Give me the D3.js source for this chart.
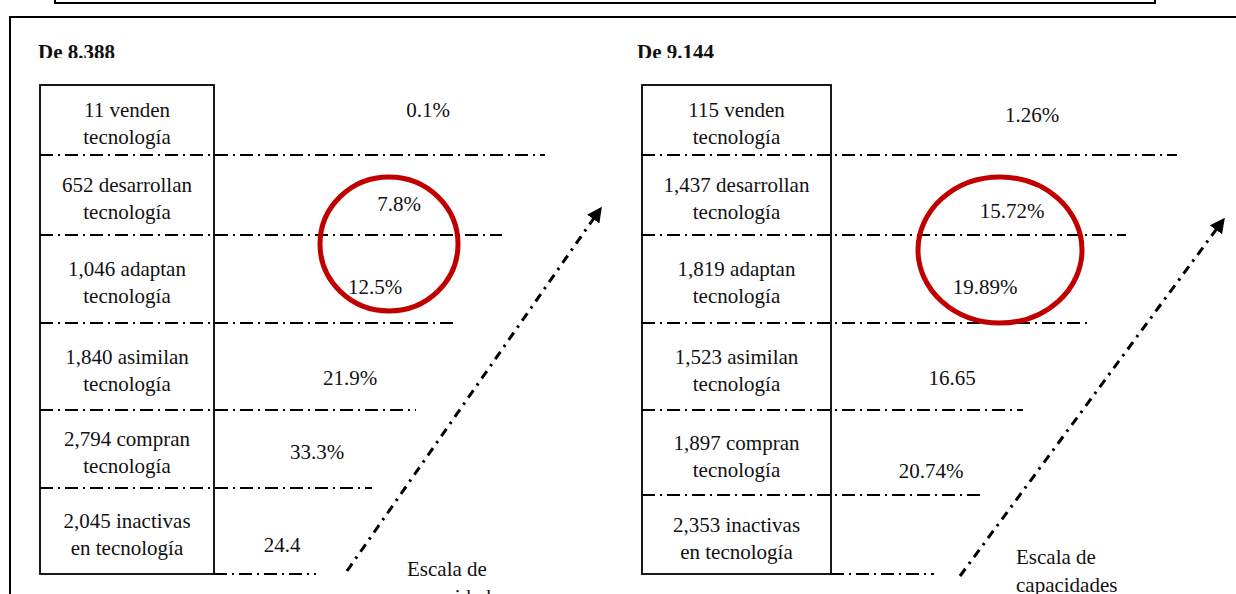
<!DOCTYPE html>
<html>
<head>
<meta charset="utf-8">
<script src="https://cdn.jsdelivr.net/npm/d3@7"></script>
<style>
  body { margin: 0; background: #fff; }
  svg { display: block; }
  svg text { font-family: "Liberation Serif", Tinos, "DejaVu Serif", serif; fill: #111; }
</style>
</head>
<body>
<div id="chart"></div>
<script>
// data
var panelTitles = ["De 8.388", "De 9.144"];
var countsA = ["11", "652", "1,046", "1,840", "2,794", "2,045"];
var countsB = ["115", "1,437", "1,819", "1,523", "1,897", "2,353"];
var verbs = ["venden", "desarrollan", "adaptan", "asimilan", "compran", "inactivas"];
var secondLine = ["tecnología", "tecnología", "tecnología", "tecnología", "tecnología", "en tecnología"];
var sharesA = ["0.1%", "7.8%", "12.5%", "21.9%", "33.3%", "24.4"];
var sharesB = ["1.26%", "15.72%", "19.89%", "16.65", "20.74%", ""];
var circledRows = [1, 2];
var scaleLabel = ["Escala de", "capacidades"];

// layout (pixels)
var width = 1236, height = 594;
var fontSize = 21;
var panels = [
  { title: panelTitles[0], counts: countsA, shares: sharesA, titleX: 38,
    boxX: [40, 214], edges: [85, 155, 235, 323, 410, 488, 574],
    lineEnd: [545, 502, 457, 416, 372, 316],
    shareX: [428, 399, 375, 350, 317, 282], shareY: [110, 204, 287, 378, 452, 545],
    ring: { cx: 389, cy: 244, rx: 69, ry: 67 },
    arrow: [[347, 571], [601, 208]], scaleText: [407, 576] },
  { title: panelTitles[1], counts: countsB, shares: sharesB, titleX: 637,
    boxX: [642, 831], edges: [85, 155, 235, 323, 410, 495, 574],
    lineEnd: [1177, 1126, 1089, 1023, 984, 934],
    shareX: [1032, 1012, 985, 952, 931, 0], shareY: [115, 211, 287, 378, 471, 0],
    ring: { cx: 1000, cy: 250, rx: 82, ry: 73 },
    arrow: [[960, 576], [1224, 219]], scaleText: [1016, 564] }
];

var svg = d3.select("#chart").append("svg")
    .attr("width", width)
    .attr("height", height);

var defs = svg.append("defs");
defs.append("marker")
    .attr("id", "head")
    .attr("viewBox", "0 0 10 10")
    .attr("refX", 9).attr("refY", 5)
    .attr("markerWidth", 5).attr("markerHeight", 5)
    .attr("markerUnits", "strokeWidth")
    .attr("orient", "auto")
  .append("path")
    .attr("d", "M0,0 L10,5 L0,10 Z")
    .attr("fill", "#000");

// outer frames
svg.append("path")
    .attr("d", "M55,0 V3 H1155 V0")
    .attr("fill", "none").attr("stroke", "#000").attr("stroke-width", 2);
svg.append("path")
    .attr("d", "M10,594 V17 H1236")
    .attr("fill", "none").attr("stroke", "#000").attr("stroke-width", 2);

panels.forEach(function(p, k) {
  var g = svg.append("g");
  var y = d3.scaleLinear().domain(d3.range(p.edges.length)).range(p.edges);
  var rows = d3.range(p.counts.length);

  // title, slightly clipped at the baseline like the source
  defs.append("clipPath").attr("id", "tclip" + k)
    .append("rect").attr("x", p.titleX - 5).attr("y", 30).attr("width", 120).attr("height", 28);
  g.append("text")
      .attr("clip-path", "url(#tclip" + k + ")")
      .attr("x", p.titleX).attr("y", 59)
      .attr("font-weight", "bold")
      .attr("font-size", 21)
      .text(p.title);

  // dash-dot separators
  g.selectAll(".sep")
    .data(rows)
    .enter().append("line")
      .attr("x1", function(i) { return i === rows.length - 1 ? p.boxX[1] : p.boxX[0]; })
      .attr("x2", function(i) { return p.lineEnd[i]; })
      .attr("y1", function(i) { return y(i + 1); })
      .attr("y2", function(i) { return y(i + 1); })
      .attr("stroke", "#000")
      .attr("stroke-width", 2)
      .attr("stroke-dasharray", "13,5,2,5");

  // box
  g.append("rect")
      .attr("x", p.boxX[0]).attr("y", y(0))
      .attr("width", p.boxX[1] - p.boxX[0])
      .attr("height", y(rows.length) - y(0))
      .attr("fill", "none").attr("stroke", "#000").attr("stroke-width", 1.8);

  // row labels
  var cx = (p.boxX[0] + p.boxX[1]) / 2;
  var lab = g.selectAll(".lab")
    .data(rows)
    .enter().append("text")
      .attr("text-anchor", "middle")
      .attr("font-size", fontSize);
  lab.append("tspan")
      .attr("x", cx)
      .attr("y", function(i) { return y(i + 0.5) + 3 - 13; })
      .attr("dy", "0.35em")
      .text(function(i) { return p.counts[i] + " " + verbs[i]; });
  lab.append("tspan")
      .attr("x", cx)
      .attr("y", function(i) { return y(i + 0.5) + 3 + 14; })
      .attr("dy", "0.35em")
      .text(function(i) { return secondLine[i]; });

  // shares
  g.selectAll(".share")
    .data(rows.filter(function(i) { return p.shares[i] !== ""; }))
    .enter().append("text")
      .attr("text-anchor", "middle")
      .attr("font-size", fontSize)
      .attr("x", function(i) { return p.shareX[i]; })
      .attr("y", function(i) { return p.shareY[i]; })
      .attr("dy", "0.35em")
      .text(function(i) { return p.shares[i]; });

  // red ring around the circled rows
  g.append("ellipse")
      .datum(circledRows)
      .attr("cx", p.ring.cx).attr("cy", p.ring.cy)
      .attr("rx", p.ring.rx).attr("ry", p.ring.ry)
      .attr("fill", "none")
      .attr("stroke", "#c00000")
      .attr("stroke-width", 5);

  // arrow
  g.append("path")
      .attr("d", d3.line()(p.arrow))
      .attr("stroke", "#000")
      .attr("stroke-width", 3)
      .attr("stroke-dasharray", "9,6,2.5,6")
      .attr("marker-end", "url(#head)");

  g.append("text")
      .attr("font-size", fontSize)
      .selectAll("tspan")
      .data(scaleLabel)
      .enter().append("tspan")
        .attr("x", p.scaleText[0])
        .attr("y", function(d, i) { return p.scaleText[1] + i * 28; })
        .text(function(d) { return d; });
});
</script>
</body>
</html>
